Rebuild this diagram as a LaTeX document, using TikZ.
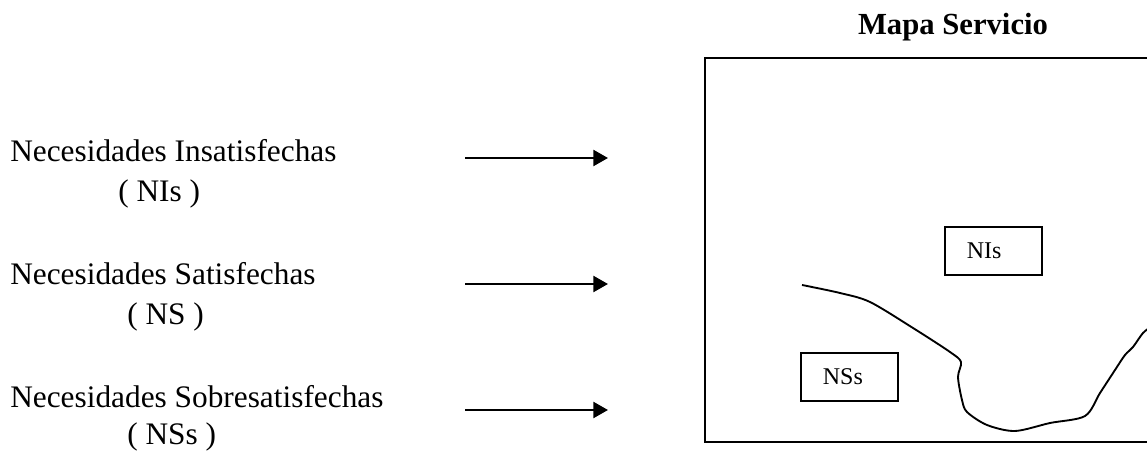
\documentclass[tikz,border=0pt]{standalone}
\usepackage{fontspec}
\setmainfont{Liberation Serif}
\usetikzlibrary{arrows.meta,positioning}

\tikzset{
    etiqueta/.style={inner sep=0pt, anchor=base west, font=\fontsize{23.5}{28}\selectfont},
    flecha/.style={-{Triangle[length=11pt, width=12pt]}, line width=1.8pt},
    caja/.style={draw, line width=1.1pt, minimum height=36pt, text width=40pt, inner xsep=16.5pt, align=left, font=\fontsize{18}{21}\selectfont},
}

\begin{document}
\begin{tikzpicture}[x=0.75pt, y=-0.75pt]
    \clip (0,0) rectangle (1147,452);

    \node[etiqueta] (ni) at (10,162) {Necesidades Insatisfechas};
    \node[etiqueta] (nisig) at (118,202) {( NIs )};
    \node[etiqueta] (ns) at (10,285) {Necesidades Satisfechas};
    \node[etiqueta] (nssig) at (127,325) {( NS )};
    \node[etiqueta] (nss) at (10,408) {Necesidades Sobresatisfechas};
    \node[etiqueta] (nsssig) at (127,445) {( NSs )};

    \foreach \y/\n in {158/1, 284/2, 410/3} {
        \coordinate (ini\n) at (465,\y);
        \coordinate (fin\n) at (608,\y);
        \draw[flecha] (ini\n) -- (fin\n);
    }

    \node[anchor=base, inner sep=0pt, font=\fontsize{23}{27}\selectfont\bfseries] (titulo) at (953,35) {Mapa Servicio};
    \draw[line width=1.5pt] (1165,58) -- (705,58) -- (705,442) -- (1165,442);

    \node[caja] (cajani) at (993.5,251) {NIs};
    \node[caja] (cajanss) at (849.5,377) {NSs};

    \draw[line width=1.4pt] plot[smooth, tension=0.5] coordinates {
        (802,285) (840,293) (870,302) (913,328) (950,352) (961,362) (958,377)
        (962,400) (967,412) (987,425) (1015,431) (1050,423) (1085,416) (1100,393)
        (1115,370) (1125,355) (1133,347) (1143,333) (1152,326)};
\end{tikzpicture}
\end{document}
